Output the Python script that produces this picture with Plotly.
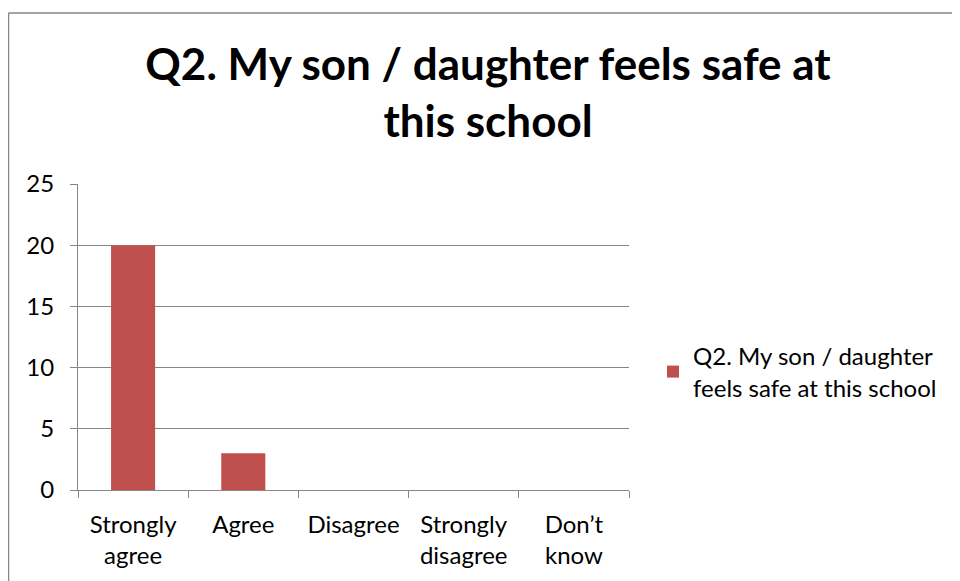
import plotly.graph_objects as go

RED = "#C0504D"
GRID = "#868686"
DARK = "#000000"
FONT = "Lato"

categories = ["Strongly<br>agree", "Agree", "Disagree", "Strongly<br>disagree", "Don\u2019t<br>know"]
responses = [20, 3, 0, 0, 0]
series_name = "Q2. My son / daughter<br>feels safe at this school"
title_text = "Q2. My son / daughter feels safe at<br>this school"
y_ticks = [0, 5, 10, 15, 20, 25]

# page body adds an 8px offset, so the margins are shifted to compensate
L, R, T, B = 70, 339, 176, 99
PW, PH = 960 - L - R, 581 - T - B

fig = go.Figure(
    go.Bar(
        x=categories, y=responses, name=series_name,
        marker=dict(color=RED, line=dict(width=0)),
        width=0.4, showlegend=True,
    )
)

fig.update_layout(
    width=960, height=581,
    paper_bgcolor="#FFFFFF", plot_bgcolor="#FFFFFF",
    margin=dict(l=L, r=R, t=T, b=B, autoexpand=False),
    font=dict(family=FONT, size=24, color=DARK),
    title=dict(
        text=title_text, x=0.5, xanchor="center",
        yref="container", y=1 - 72 / 581, yanchor="top",
        font=dict(family=FONT, size=44, color=DARK, weight="bold"),
    ),
    legend=dict(
        x=1.0436, xanchor="left", y=0.386, yanchor="middle",
        font=dict(family=FONT, size=24, color=DARK),
        itemwidth=30, bgcolor="rgba(0,0,0,0)",
    ),
    showlegend=True,
)

fig.update_yaxes(
    range=[0, 25], tickvals=y_ticks, showgrid=True, gridcolor=GRID, gridwidth=1,
    showline=True, linecolor=GRID, linewidth=1, ticks="outside", ticklen=7,
    tickcolor=GRID, zeroline=False, ticklabelstandoff=11,
)
fig.update_xaxes(
    showgrid=False, showline=True, linecolor=GRID, linewidth=1,
    ticks="outside", tickson="boundaries", ticklen=7, tickcolor=GRID,
    ticklabelstandoff=13,
)

# chart border (right/bottom fall outside the picture)
top = 1 + (T - 5) / PH
left = -(L - 0.5) / PW
fig.add_shape(type="line", xref="paper", yref="paper",
              x0=left, x1=2.0, y0=top, y1=top,
              line=dict(color=GRID, width=1.5))
fig.add_shape(type="line", xref="paper", yref="paper",
              x0=left, x1=left, y0=-1.0, y1=top,
              line=dict(color=GRID, width=1.5))

fig.write_html("out.html")
